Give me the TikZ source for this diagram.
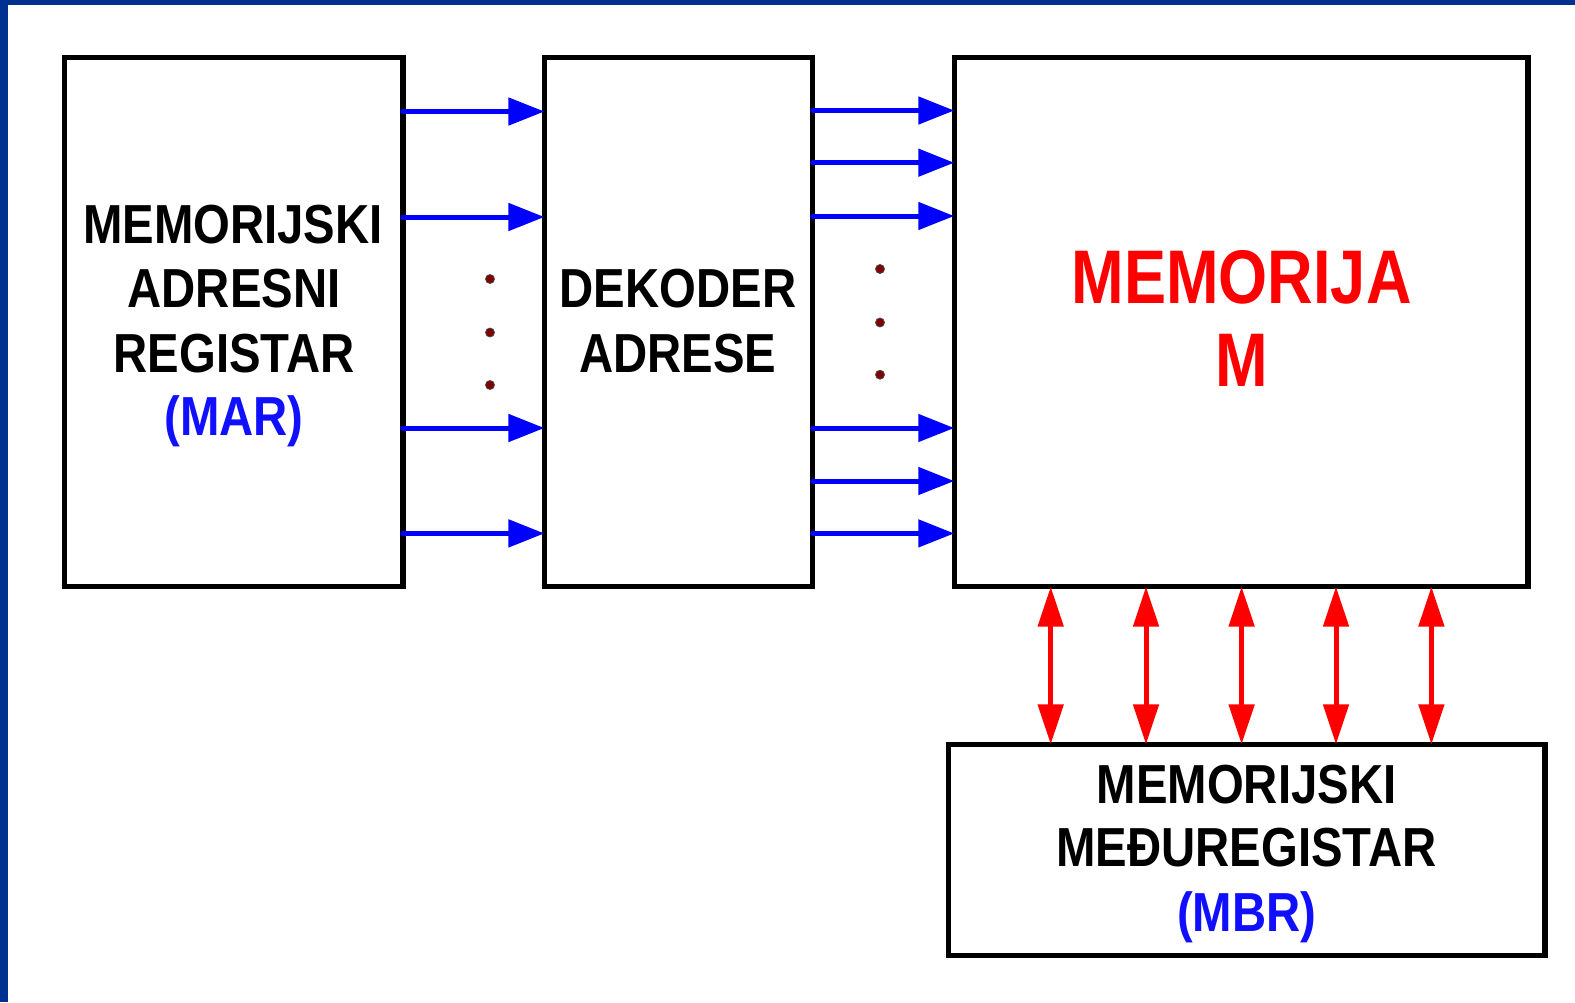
\documentclass[tikz,border=0pt]{standalone}
\usepackage{fontspec}
\setmainfont{Liberation Sans}[BoldFont={Liberation Sans Bold}]
\newfontfamily\boxfont{Liberation Sans Bold}[FakeStretch=0.86]
\newfontfamily\bigfont{Liberation Sans Bold}[FakeStretch=0.83]
\usetikzlibrary{arrows.meta}
\definecolor{framebl}{RGB}{0,48,144}
\definecolor{txtblue}{RGB}{16,16,255}
\definecolor{dotred}{RGB}{128,0,0}
\tikzset{
  blk/.style={draw=black, line width=5.5pt, rectangle, outer sep=0pt, inner sep=0pt},
  lbl/.style={anchor=base, inner sep=0pt, outer sep=0pt, font=\boxfont\fontsize{55}{55}\selectfont},
  biglbl/.style={anchor=base, inner sep=0pt, outer sep=0pt, text=red, font=\bigfont\fontsize{76}{76}\selectfont},
  barrow/.style={draw=blue, line width=5pt, line cap=round, -{Triangle[length=36pt,width=27pt]}},
  rarrow/.style={draw=red, line width=5pt, {Triangle[length=40pt,width=25pt]}-{Triangle[length=40pt,width=25pt]}},
  dotc/.style={circle, fill=dotred, draw=black!70, line width=0.8pt, minimum size=9pt, inner sep=0pt}
}
\begin{document}
\begin{tikzpicture}[x=1pt,y=-1pt]
\useasboundingbox (0,0) rectangle (1575,1002);
\fill[white] (0,0) rectangle (1575,1002);
\fill[framebl] (0,0) rectangle (1575,5);
\fill[framebl] (0,0) rectangle (8,1002);

% boxes
\node[blk, minimum width=338.5pt, minimum height=529.3pt] (mar) at (233.5,322) {};
\node[blk, minimum width=268.2pt, minimum height=529.3pt] (dek) at (678.5,322) {};
\node[blk, minimum width=573.5pt, minimum height=529.3pt] (mem) at (1241,322) {};
\node[blk, minimum width=596.6pt, minimum height=211pt] (mbr) at (1246.6,849.8) {};

% texts
\node[lbl] (mar1) at (233,243.5) {MEMORIJSKI};
\node[lbl] (mar2) at (234,307.8) {ADRESNI};
\node[lbl] (mar3) at (234,372.1) {REGISTAR};
\node[lbl, text=txtblue] (mar4) at (234,435.5) {(MAR)};

\node[lbl] (dek1) at (678,307.8) {DEKODER};
\node[lbl] (dek2) at (678,372.1) {ADRESE};

\node[biglbl] (mem1) at (1241.6,303.4) {MEMORIJA};
\node[biglbl] (mem2) at (1241.6,386.7) {M};

\node[lbl] (mbr1) at (1246.6,803.6) {MEMORIJSKI};
\node[lbl] (mbr2) at (1246.6,866.9) {MEĐUREGISTAR};
\node[lbl, text=txtblue] (mbr3) at (1246.6,931) {(MBR)};

% blue arrows MAR -> DEKODER
\foreach \y in {111.5,217,428,533.4}
  \draw[barrow] (mar.east |- {(0,\y)}) -- (dek.west |- {(0,\y)});
% blue arrows DEKODER -> MEMORIJA
\foreach \y in {110.5,162.7,216,428,481,533.4}
  \draw[barrow] (dek.east |- {(0,\y)}) -- (mem.west |- {(0,\y)});

% dots
\node[dotc] (d1) at (490,279) {};
\node[dotc] (d2) at (490,332.5) {};
\node[dotc] (d3) at (490,385) {};
\node[dotc] (d4) at (880,269) {};
\node[dotc] (d5) at (880,322.5) {};
\node[dotc] (d6) at (880,374.7) {};

% red bidirectional arrows
\foreach \x in {1050.7,1146,1241.6,1336,1431.4}
  \draw[rarrow] (mem.south -| {(\x,0)}) -- (mbr.north -| {(\x,0)});
\end{tikzpicture}
\end{document}
